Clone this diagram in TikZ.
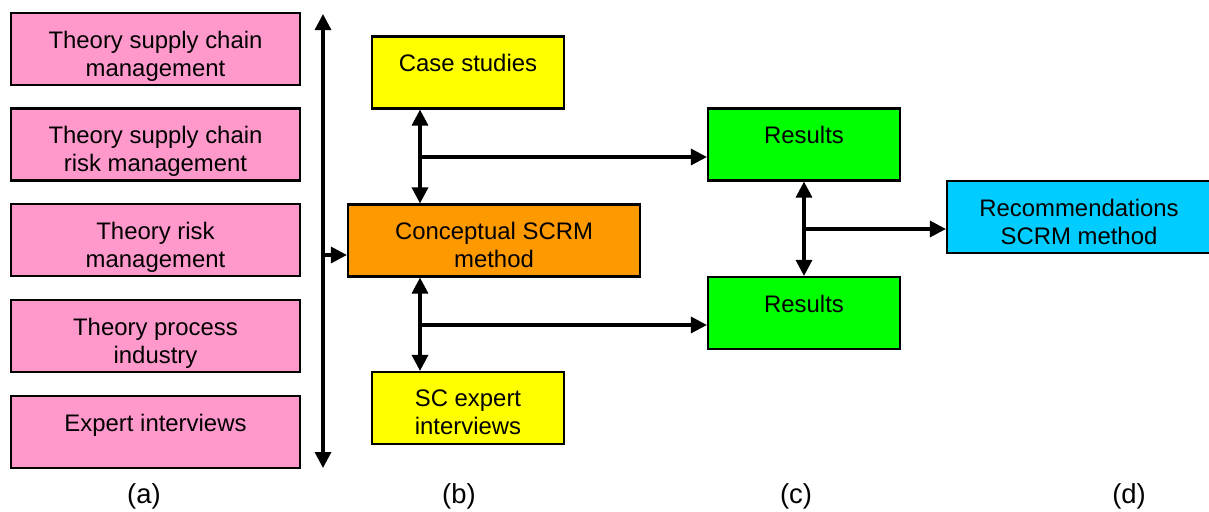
\documentclass[tikz,border=0pt]{standalone}
\usepackage{fontspec}
\setmainfont{Liberation Sans}
\usepackage{tikz}
\usepackage{xcolor}
\usetikzlibrary{positioning, arrows.meta}
\definecolor{pinkfill}{HTML}{FF99CC}
\definecolor{yellowfill}{HTML}{FFFF00}
\definecolor{orangefill}{HTML}{FF9900}
\definecolor{greenfill}{HTML}{00FF00}
\definecolor{cyanfill}{HTML}{00CCFF}
\tikzset{boxtext/.style={anchor=north,yshift=-0.47cm,inner sep=0pt,align=center,font=\fontsize{17}{20}\selectfont},
  box/.style={rectangle,draw=black,line width=1.5pt,minimum height=1.8cm,label={[boxtext]north:{#1}}},
  flow/.style={line width=2.3pt,>={Triangle[length=0.4cm,width=0.4cm]}},
  column/.style={font=\fontsize{19.5}{23}\selectfont}}

\begin{document}
\begin{tikzpicture}[x=0.025cm,y=-0.025cm]
      \useasboundingbox (0,0) rectangle (1209,512);
      % theory boxes (a)
      \node[box={Theory supply chain\\management},fill=pinkfill,minimum width=7.225cm] (scm) at (155.5,49) {};
      \node[box={Theory supply chain\\risk management},fill=pinkfill,minimum width=7.225cm] (scrm) at (155.5,144.5) {};
      \node[box={Theory risk\\management},fill=pinkfill,minimum width=7.225cm] (rm) at (155.5,240) {};
      \node[box={Theory process\\industry},fill=pinkfill,minimum width=7.225cm] (proc) at (155.5,336) {};
      \node[box={Expert interviews},fill=pinkfill,minimum width=7.225cm] (expert) at (155.5,432) {};

      % method (b)
      \node[box={Case studies},fill=yellowfill,minimum width=4.8cm] (case) at (468,72.5) {};
      \node[box={Conceptual SCRM\\method},fill=orangefill,minimum width=7.3cm] (concept) at (494,240.5) {};
      \node[box={SC expert\\interviews},fill=yellowfill,minimum width=4.8cm] (scexp) at (468,408) {};

      % results (c), (d)
      \node[box={Results},fill=greenfill,minimum width=4.8cm] (res1) at (804,144.5) {};
      \node[box={Results},fill=greenfill,minimum width=4.8cm] (res2) at (804,313) {};
      \node[box={Recommendations\\SCRM method},fill=cyanfill,minimum width=6.6cm] (rec) at (1079,217) {};

      \coordinate (spinetop) at (323,14);
      \coordinate (spinebot) at (323,468);
      \coordinate (feed) at (323,255);
      \coordinate (upjoint) at (420,157);
      \coordinate (lowjoint) at (420,325);
      \coordinate (resjoint) at (804,229);

      \draw[flow,<->] (spinetop) -- (spinebot);
      \draw[flow,->] (feed) -- (feed -| concept.west);
      \draw[flow,<->] (upjoint |- case.south) -- (upjoint |- concept.north);
      \draw[flow,->] (upjoint) -- (upjoint -| res1.west);
      \draw[flow,<->] (lowjoint |- concept.south) -- (lowjoint |- scexp.north);
      \draw[flow,->] (lowjoint) -- (lowjoint -| res2.west);
      \draw[flow,<->] (res1.south) -- (res2.north);
      \draw[flow,->] (resjoint) -- (resjoint -| rec.west);

      \node[column] (la) at (144,496) {(a)};
      \node[column] (lb) at (459,496) {(b)};
      \node[column] (lc) at (796,496) {(c)};
      \node[column] (ld) at (1129,496) {(d)};
  \end{tikzpicture}
\end{document}
